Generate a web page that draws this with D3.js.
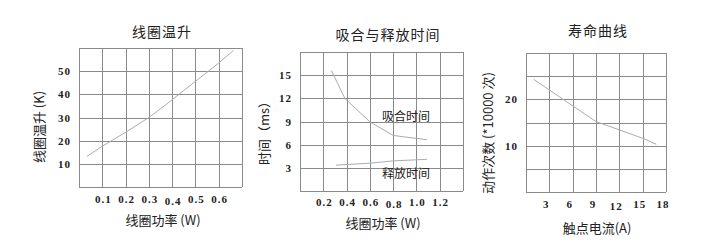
<!DOCTYPE html>
<html>
<head>
<meta charset="utf-8">
<script src="https://cdn.jsdelivr.net/npm/d3@7"></script>
<style>
  body { margin: 0; background: #fff; }
  svg { display: block; }
  .cn { font-family: "Noto Sans CJK SC", sans-serif; fill: #222; }
  .tick-lbl { font-family: "Liberation Serif", serif; font-weight: bold; font-size: 11px; fill: #222; letter-spacing: 1px; }
</style>
</head>
<body>
<svg width="704" height="249"></svg>
<script>
// chart 1: coil temperature rise
const tempPower = [0.034, 0.1, 0.2, 0.3, 0.37, 0.5, 0.6, 0.664];
const tempRise  = [13.2, 17.6, 23.6, 30, 35.3, 45.6, 53.5, 59];
const tempXTicks = [0.1, 0.2, 0.3, 0.4, 0.5, 0.6];
const tempYTicks = [10, 20, 30, 40, 50];

// chart 2: pull-in / release time
const pullPower = [0.27, 0.385, 0.6, 0.8, 0.9, 1.09];
const pullTime  = [15.6, 12.0, 8.95, 7.2, 7.0, 6.65];
const relPower  = [0.31, 0.6, 0.8, 1.09];
const relTime   = [3.35, 3.6, 3.9, 4.1];
const timeXTicks = [0.2, 0.4, 0.6, 0.8, 1.0, 1.2];
const timeYTicks = [3, 6, 9, 12, 15];

// chart 3: life curve
const lifeCurrent = [1, 6, 9, 12, 15, 16.75];
const lifeCount   = [24.3, 18.6, 15.2, 13.4, 11.6, 10.3];
const lifeXTicks = [3, 6, 9, 12, 15, 18];
const lifeYTicks = [10, 20];

const svg = d3.select("svg");
const gridColor = "#8a8a8a";
const curveColor = "#acacac";

function drawChart(cfg) {
  const x = d3.scaleLinear().domain(cfg.xDomain).range([cfg.left, cfg.right]);
  const y = d3.scaleLinear().domain(cfg.yDomain).range([cfg.bottom, cfg.top]);
  const g = svg.append("g");

  // grid
  g.selectAll(".vg").data(d3.range(cfg.xDomain[0], cfg.xDomain[1] + cfg.xStep / 2, cfg.xStep))
    .enter().append("line")
    .attr("x1", d => Math.round(x(d)) + 0.5).attr("x2", d => Math.round(x(d)) + 0.5)
    .attr("y1", cfg.top).attr("y2", cfg.bottom)
    .attr("stroke", gridColor);
  g.selectAll(".hg").data(d3.range(cfg.yDomain[0], cfg.yDomain[1] + cfg.yStep / 2, cfg.yStep))
    .enter().append("line")
    .attr("y1", d => Math.round(y(d)) + 0.5).attr("y2", d => Math.round(y(d)) + 0.5)
    .attr("x1", cfg.left).attr("x2", cfg.right)
    .attr("stroke", gridColor);

  // tick labels
  g.selectAll(".xl").data(cfg.xTicks).enter().append("text")
    .attr("class", "tick-lbl")
    .attr("x", d => x(d) + cfg.xLblShift)
    .attr("y", (d, i) => cfg.xLblY + (i === cfg.lowTick ? 2 : 0))
    .attr("text-anchor", "middle")
    .text(cfg.xFmt);
  g.selectAll(".yl").data(cfg.yTicks).enter().append("text")
    .attr("class", "tick-lbl")
    .attr("x", cfg.left - 8)
    .attr("y", d => y(d) + 4)
    .attr("text-anchor", "end")
    .text(d => d);

  // curves
  const line = d3.line().x(d => x(d[0])).y(d => y(d[1]));
  cfg.series.forEach(s => {
    g.append("path")
      .attr("d", line(d3.zip(s.xs, s.ys)))
      .attr("fill", "none")
      .attr("stroke", curveColor)
      .attr("stroke-width", 1);
  });

  // titles
  g.append("text").attr("class", "cn")
    .attr("x", cfg.titleX).attr("y", cfg.titleY)
    .attr("text-anchor", "middle").attr("font-size", 14)
    .attr("letter-spacing", 1)
    .text(cfg.title);
  g.append("text").attr("class", "cn")
    .attr("x", cfg.xLabelX).attr("y", cfg.xLabelY)
    .attr("text-anchor", "middle").attr("font-size", 13)
    .text(cfg.xLabel);
  g.append("text").attr("class", "cn")
    .attr("transform", `translate(${cfg.yLabelX},${cfg.yLabelY}) rotate(-90)`)
    .attr("text-anchor", "middle").attr("font-size", 13)
    .attr("dy", "0.35em")
    .text(cfg.yLabel);

  (cfg.notes || []).forEach(n => {
    g.append("text").attr("class", "cn")
      .attr("x", n.x).attr("y", n.y)
      .attr("text-anchor", "middle").attr("font-size", 12)
      .text(n.text);
  });
}

drawChart({
  left: 79, right: 242, top: 48, bottom: 187,
  xDomain: [0, 0.7], xStep: 0.1, yDomain: [0, 60], yStep: 10,
  xTicks: tempXTicks, yTicks: tempYTicks, xFmt: d => d.toFixed(1),
  xLblShift: 1, xLblY: 203, lowTick: 3,
  series: [{ xs: tempPower, ys: tempRise }],
  title: "线圈温升", titleX: 162, titleY: 37,
  xLabel: "线圈功率 (W)", xLabelX: 163, xLabelY: 225,
  yLabel: "线圈温升 (K)", yLabelX: 39, yLabelY: 127
});

drawChart({
  left: 300, right: 463, top: 52, bottom: 191,
  xDomain: [0, 1.4], xStep: 0.2, yDomain: [0, 18], yStep: 3,
  xTicks: timeXTicks, yTicks: timeYTicks, xFmt: d => d.toFixed(1),
  xLblShift: 1, xLblY: 206, lowTick: 3,
  series: [{ xs: pullPower, ys: pullTime }, { xs: relPower, ys: relTime }],
  title: "吸合与释放时间", titleX: 388, titleY: 40,
  xLabel: "线圈功率 (W)", xLabelX: 383, xLabelY: 228,
  yLabel: "时间（ms）", yLabelX: 264, yLabelY: 130,
  notes: [
    { text: "吸合时间", x: 406, y: 121 },
    { text: "释放时间", x: 406, y: 178 }
  ]
});

drawChart({
  left: 526, right: 666, top: 53, bottom: 192,
  xDomain: [0, 18], xStep: 3, yDomain: [0, 30], yStep: 5,
  xTicks: lifeXTicks, yTicks: lifeYTicks, xFmt: d => d,
  xLblShift: -3, xLblY: 208, lowTick: 3,
  series: [{ xs: lifeCurrent, ys: lifeCount }],
  title: "寿命曲线", titleX: 598, titleY: 36,
  xLabel: "触点电流(A)", xLabelX: 597, xLabelY: 233,
  yLabel: "动作次数 (*10000 次)", yLabelX: 488, yLabelY: 133
});
</script>
</body>
</html>
